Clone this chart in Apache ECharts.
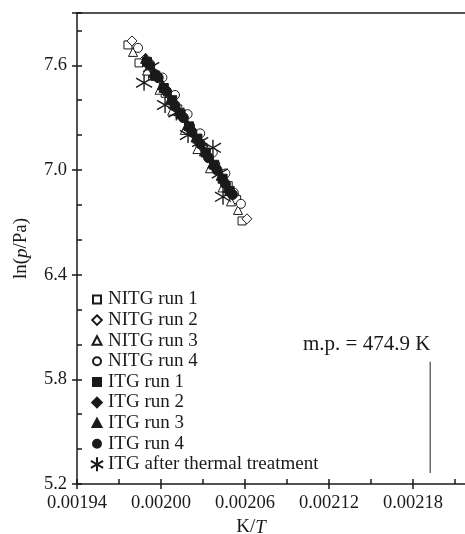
<!DOCTYPE html>
<html>
<head>
<meta charset="utf-8">
<script src="https://cdn.jsdelivr.net/npm/echarts@6/dist/echarts.min.js"></script>
<style>
  html, body { margin: 0; padding: 0; background: #fff; overflow: hidden; }
  #main { width: 465px; height: 534px; }
</style>
</head>
<body>
<div id="main"></div>
<script>
// vapour pressure data, K/T vs ln(p/Pa)
const nitg1 = [[0.0019764, 7.717], [0.0019843, 7.614], [0.001994, 7.54], [0.002003, 7.44], [0.002012, 7.35], [0.002021, 7.24], [0.00203, 7.13], [0.002039, 7.02], [0.002048, 6.91], [0.002054, 6.83], [0.0020579, 6.708]];
const nitg2 = [[0.0019793, 7.74], [0.001989, 7.64], [0.001998, 7.53], [0.002007, 7.42], [0.002016, 7.31], [0.002025, 7.2], [0.002034, 7.09], [0.002043, 6.98], [0.002052, 6.86], [0.0020614, 6.72]];
const nitg3 = [[0.00198, 7.677], [0.00199, 7.57], [0.001999, 7.46], [0.002008, 7.34], [0.002017, 7.23], [0.002026, 7.12], [0.002035, 7.01], [0.002044, 6.9], [0.00205, 6.82], [0.002055, 6.771]];
const nitg4 = [[0.0019836, 7.7], [0.001992, 7.61], [0.002001, 7.53], [0.00201, 7.43], [0.002019, 7.32], [0.002028, 7.21], [0.002037, 7.1], [0.002046, 6.98], [0.002052, 6.87], [0.0020571, 6.806]];
const itg1 = [[0.00199, 7.62], [0.001996, 7.54], [0.002002, 7.47], [0.002008, 7.4], [0.002014, 7.32], [0.00202, 7.25], [0.002026, 7.18], [0.002032, 7.1], [0.002038, 7.03], [0.002044, 6.95], [0.002049, 6.88]];
const itg2 = [[0.001991, 7.61], [0.001997, 7.53], [0.002003, 7.46], [0.002009, 7.38], [0.002015, 7.31], [0.002021, 7.23], [0.002027, 7.16], [0.002033, 7.08], [0.002039, 7.01], [0.002045, 6.93], [0.00205, 6.87]];
const itg3 = [[0.001989, 7.64], [0.001995, 7.56], [0.002001, 7.49], [0.002007, 7.41], [0.002013, 7.34], [0.002019, 7.26], [0.002025, 7.19], [0.002031, 7.11], [0.002037, 7.04], [0.002043, 6.97], [0.002048, 6.9]];
const itg4 = [[0.001992, 7.6], [0.001998, 7.53], [0.002004, 7.45], [0.00201, 7.37], [0.002016, 7.3], [0.002022, 7.22], [0.002028, 7.15], [0.002034, 7.07], [0.00204, 7.0], [0.002046, 6.92], [0.002051, 6.86]];
const itgThermal = [[0.0019879, 7.5], [0.001993, 7.59], [0.0020029, 7.373], [0.002011, 7.33], [0.0020193, 7.201], [0.002028, 7.16], [0.0020371, 7.127], [0.002042, 6.98], [0.0020443, 6.846]];

const seriesNames = ['NITG run 1', 'NITG run 2', 'NITG run 3', 'NITG run 4',
  'ITG run 1', 'ITG run 2', 'ITG run 3', 'ITG run 4', 'ITG after thermal treatment'];
const xTickLabels = ['0.00194', '0.00200', '0.00206', '0.00212', '0.00218'];

// melting point marker (vertical stub)
const mpLine = [[0.0021923, 5.263], [0.0021923, 5.901]];
const mpLabel = 'm.p. = 474.9 K';

// the plot runs off the right edge of the page, so the axis extends past it
const xMin = 0.00194, xMax = 0.00224, xStep = 0.00003;
const yMin = 5.2, yMax = 7.9, yStep = 0.2;

const FONT = 'Liberation Serif';
const INK = '#1a1a1a';
const STAR = 'path://M5,0L5,10M0,2.1L10,7.9M0,7.9L10,2.1';

// legend icons: a 14x14 box (corner moveTo's) with a smaller shape inside
const legendIcons = [
  'path://M0,0M14,14M3,3L11,3L11,11L3,11Z',
  'path://M0,0M14,14M7,2.2L11.8,7L7,11.8L2.2,7Z',
  'path://M0,0M14,14M7,2.5L11.5,11L2.5,11Z',
  'path://M0,0M14,14M11,7A4,4,0,1,1,3,7A4,4,0,1,1,11,7Z',
  'path://M0,0M14,14M3,3L11,3L11,11L3,11Z',
  'path://M0,0M14,14M7,2.2L11.8,7L7,11.8L2.2,7Z',
  'path://M0,0M14,14M7,2.5L11.5,11L2.5,11Z',
  'path://M0,0M14,14M11,7A4,4,0,1,1,3,7A4,4,0,1,1,11,7Z',
  'path://M7,0L7,14M0.9,3.5L13.1,10.5M0.9,10.5L13.1,3.5'
];

function scat(name, data, symbol, size, filled) {
  return {
    name: name,
    type: 'scatter',
    data: data,
    symbol: symbol,
    symbolSize: size,
    itemStyle: {
      color: filled ? INK : '#fff',
      borderColor: INK,
      borderWidth: 1,
      opacity: 1
    }
  };
}

const series = [
  scat(seriesNames[0], nitg1, 'rect', 8, false),
  scat(seriesNames[1], nitg2, 'diamond', 10, false),
  scat(seriesNames[2], nitg3, 'triangle', 9, false),
  scat(seriesNames[3], nitg4, 'circle', 9, false),
  scat(seriesNames[4], itg1, 'rect', 9, true),
  scat(seriesNames[5], itg2, 'diamond', 10, true),
  scat(seriesNames[6], itg3, 'triangle', 10, true),
  scat(seriesNames[7], itg4, 'circle', 10, true),
  scat(seriesNames[8], itgThermal, STAR, 16, true),
  {
    name: 'm.p.',
    type: 'line',
    data: mpLine,
    symbol: 'none',
    silent: true,
    lineStyle: { color: '#555', width: 1.3 }
  }
];
series[8].itemStyle.borderWidth = 1.4;

function ls() {
  return { color: INK, width: 1.5 };
}

const chart = echarts.init(document.getElementById('main'));
chart.setOption({
  animation: false,
  grid: {
    left: 77, top: 13, width: 420, height: 471,
    outerBoundsMode: 'none',
    show: false
  },
  legend: {
    orient: 'vertical',
    left: 89, top: 290,
    padding: 0,
    itemWidth: 14, itemHeight: 14,
    itemGap: 1.6,
    selectedMode: false,
    textStyle: { fontFamily: FONT, fontSize: 19, color: INK, padding: [0, 0, 0, -1] },
    data: seriesNames.map(function (n, i) { return { name: n, icon: legendIcons[i] }; })
  },
  xAxis: [{
    type: 'value', min: xMin, max: xMax, interval: xStep,
    position: 'bottom',
    axisLine: { lineStyle: ls() },
    axisTick: { inside: true, length: 5, lineStyle: ls() },
    splitLine: { show: false },
    axisLabel: {
      margin: 10, color: INK, fontFamily: FONT, fontSize: 18.5,
      showMinLabel: true, showMaxLabel: false,
      formatter: function (v) {
        const i = Math.round((v - xMin) / xStep);
        return i % 2 === 0 && xTickLabels[i / 2] ? xTickLabels[i / 2] : '';
      }
    },
    name: '{a|K/}{i|T}',
    nameLocation: 'middle', nameGap: 34,
    nameTextStyle: {
      padding: [0, 72, 0, 0],
      rich: {
        a: { fontFamily: FONT, fontSize: 19, color: INK },
        i: { fontFamily: FONT, fontSize: 19, fontStyle: 'italic', color: INK }
      }
    }
  }, {
    type: 'value', min: xMin, max: xMax, interval: xStep * 2,
    position: 'bottom',
    axisLine: { show: false },
    axisTick: { inside: false, length: 5, lineStyle: ls() },
    axisLabel: { show: false },
    splitLine: { show: false }
  }, {
    // top frame line
    type: 'value', min: xMin, max: xMax, position: 'top',
    axisLine: { lineStyle: ls() },
    axisTick: { show: false },
    axisLabel: { show: false },
    splitLine: { show: false }
  }],
  yAxis: [{
    type: 'value', min: yMin, max: yMax, interval: yStep,
    position: 'left',
    axisLine: { lineStyle: ls() },
    axisTick: { inside: true, length: 5, lineStyle: ls() },
    splitLine: { show: false },
    axisLabel: {
      margin: 10, color: INK, fontFamily: FONT, fontSize: 18.5,
      formatter: function (v) {
        return Math.round((v - yMin) / yStep) % 3 === 0 ? v.toFixed(1) : '';
      }
    },
    name: '{a|ln(}{i|p}{a|/Pa)}',
    nameLocation: 'middle', nameGap: 46, nameRotate: 90,
    nameTextStyle: {
      rich: {
        a: { fontFamily: FONT, fontSize: 19, color: INK },
        i: { fontFamily: FONT, fontSize: 19, fontStyle: 'italic', color: INK }
      }
    }
  }, {
    type: 'value', min: yMin, max: yMax, interval: yStep * 3,
    position: 'left',
    axisLine: { show: false },
    axisTick: { inside: false, length: 5, lineStyle: ls() },
    axisLabel: { show: false },
    splitLine: { show: false }
  }],
  graphic: [{
    type: 'text', left: 303, top: 334,
    style: { text: mpLabel, font: '21px "Liberation Serif"', fill: INK }
  }],
  series: series
});
</script>
</body>
</html>
